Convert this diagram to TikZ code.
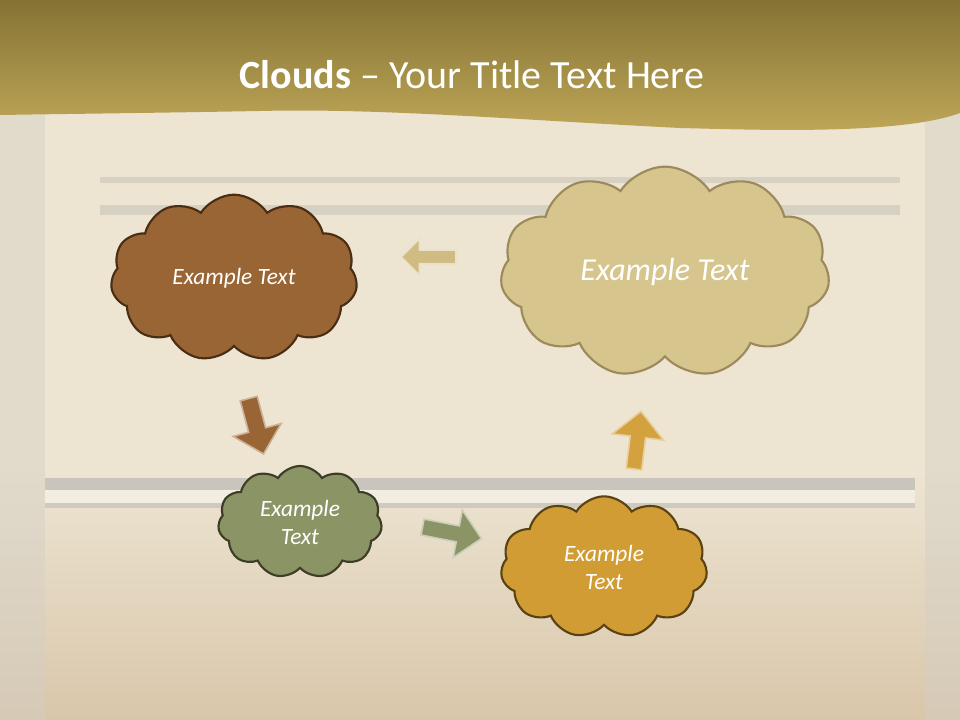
\documentclass[tikz,border=0pt]{standalone}
\usepackage{fontspec}
\setmainfont{Carlito}
\usepackage{xcolor}
\usetikzlibrary{shapes.symbols,shapes.arrows}

\definecolor{bgupper}{HTML}{EDE5D2}
\definecolor{bglower}{HTML}{D9C6AA}
\definecolor{edgegray}{HTML}{D3CFC6}
\definecolor{bargray}{HTML}{C9C5BC}
\definecolor{bannertop}{HTML}{857334}
\definecolor{bannerbot}{HTML}{C0A859}
\definecolor{brownfill}{HTML}{9A6535}
\definecolor{brownline}{HTML}{4A2E14}
\definecolor{khakifill}{HTML}{D6C58C}
\definecolor{khakiline}{HTML}{9C8A5C}
\definecolor{olivefill}{HTML}{8B9465}
\definecolor{oliveline}{HTML}{3E3E28}
\definecolor{goldfill}{HTML}{D19C33}
\definecolor{goldline}{HTML}{5A4214}

\begin{document}
\begin{tikzpicture}[x=0.75pt,y=-0.75pt,
        cloudbox/.style={cloud,cloud puffs=11,cloud puff arc=115,draw,line width=1.6pt,
          align=center,text=white,inner sep=0pt,
          font=\itshape\fontsize{17.5}{21}\selectfont},
        blockarrow/.style={single arrow,inner xsep=0pt,text height=0pt,text depth=0pt,
          line width=1.2pt}]
        % background
        \fill[bgupper] (0,0) rectangle (960,720);
        \shade[top color=bgupper,bottom color=bglower] (0,470) rectangle (960,720);
        \fill[edgegray,opacity=0.45] (0,110) rectangle (45,720);
        \fill[edgegray,opacity=0.45] (925,110) rectangle (960,720);
        \fill[bargray,opacity=0.6] (100,177) rectangle (900,183);
        \fill[bargray,opacity=0.6] (100,205) rectangle (900,215);
        \fill[bargray] (45,478) rectangle (915,490);
        \fill[white,opacity=0.4] (45,490) rectangle (915,503);
        \fill[bargray,opacity=0.8] (45,503) rectangle (915,508);
        % banner
        \shade[top color=bannertop,bottom color=bannerbot]
          (0,0) -- (960,0) -- (960,113) .. controls (900,135) and (760,130) .. (680,128)
          .. controls (520,120) and (380,108) .. (260,111)
          .. controls (150,113) and (60,114) .. (0,115) -- cycle;
        \node[text=white,font=\fontsize{30}{36}\selectfont] (title) at (472,75)
          {\textbf{Clouds} – Your Title Text Here};
        % clouds
        \node[cloudbox,fill=brownfill,draw=brownline,aspect=1.48,
          minimum width=185pt,minimum height=125pt] (brown) at (234,278) {Example Text};
        \node[cloudbox,fill=khakifill,draw=khakiline,aspect=1.56,
          minimum width=247pt,minimum height=158pt,
          font=\itshape\fontsize{24}{29}\selectfont] (khaki) at (665,272) {Example Text};
        \node[cloudbox,fill=olivefill,draw=oliveline,aspect=1.46,
          minimum width=123pt,minimum height=84pt] (olive) at (300,522) {Example\\Text};
        \node[cloudbox,fill=goldfill,draw=goldline,aspect=1.47,
          minimum width=155pt,minimum height=106pt] (gold) at (604,567) {Example\\Text};
        % block arrows
        \node[blockarrow,fill=khakifill!90!brownfill,draw=khakifill!50!white,rotate=180,
          inner ysep=4.5pt,single arrow head extend=8.5pt,minimum height=41pt] (toleft) at (432,257) {};
        \node[blockarrow,fill=brownfill,draw=brownfill!50!white,rotate=-75,
          inner ysep=6pt,single arrow head extend=12pt,minimum height=43pt] (todown) at (255,422) {};
        \node[blockarrow,fill=olivefill,draw=olivefill!45!white,rotate=-11,
          inner ysep=5.5pt,single arrow head extend=12pt,minimum height=45pt] (toright) at (448,532) {};
        \node[blockarrow,fill=goldfill!95!white,draw=goldfill!50!white,rotate=83,
          inner ysep=5.2pt,single arrow head extend=13.5pt,minimum height=43.5pt] (toup) at (637,444) {};
      \end{tikzpicture}
\end{document}
